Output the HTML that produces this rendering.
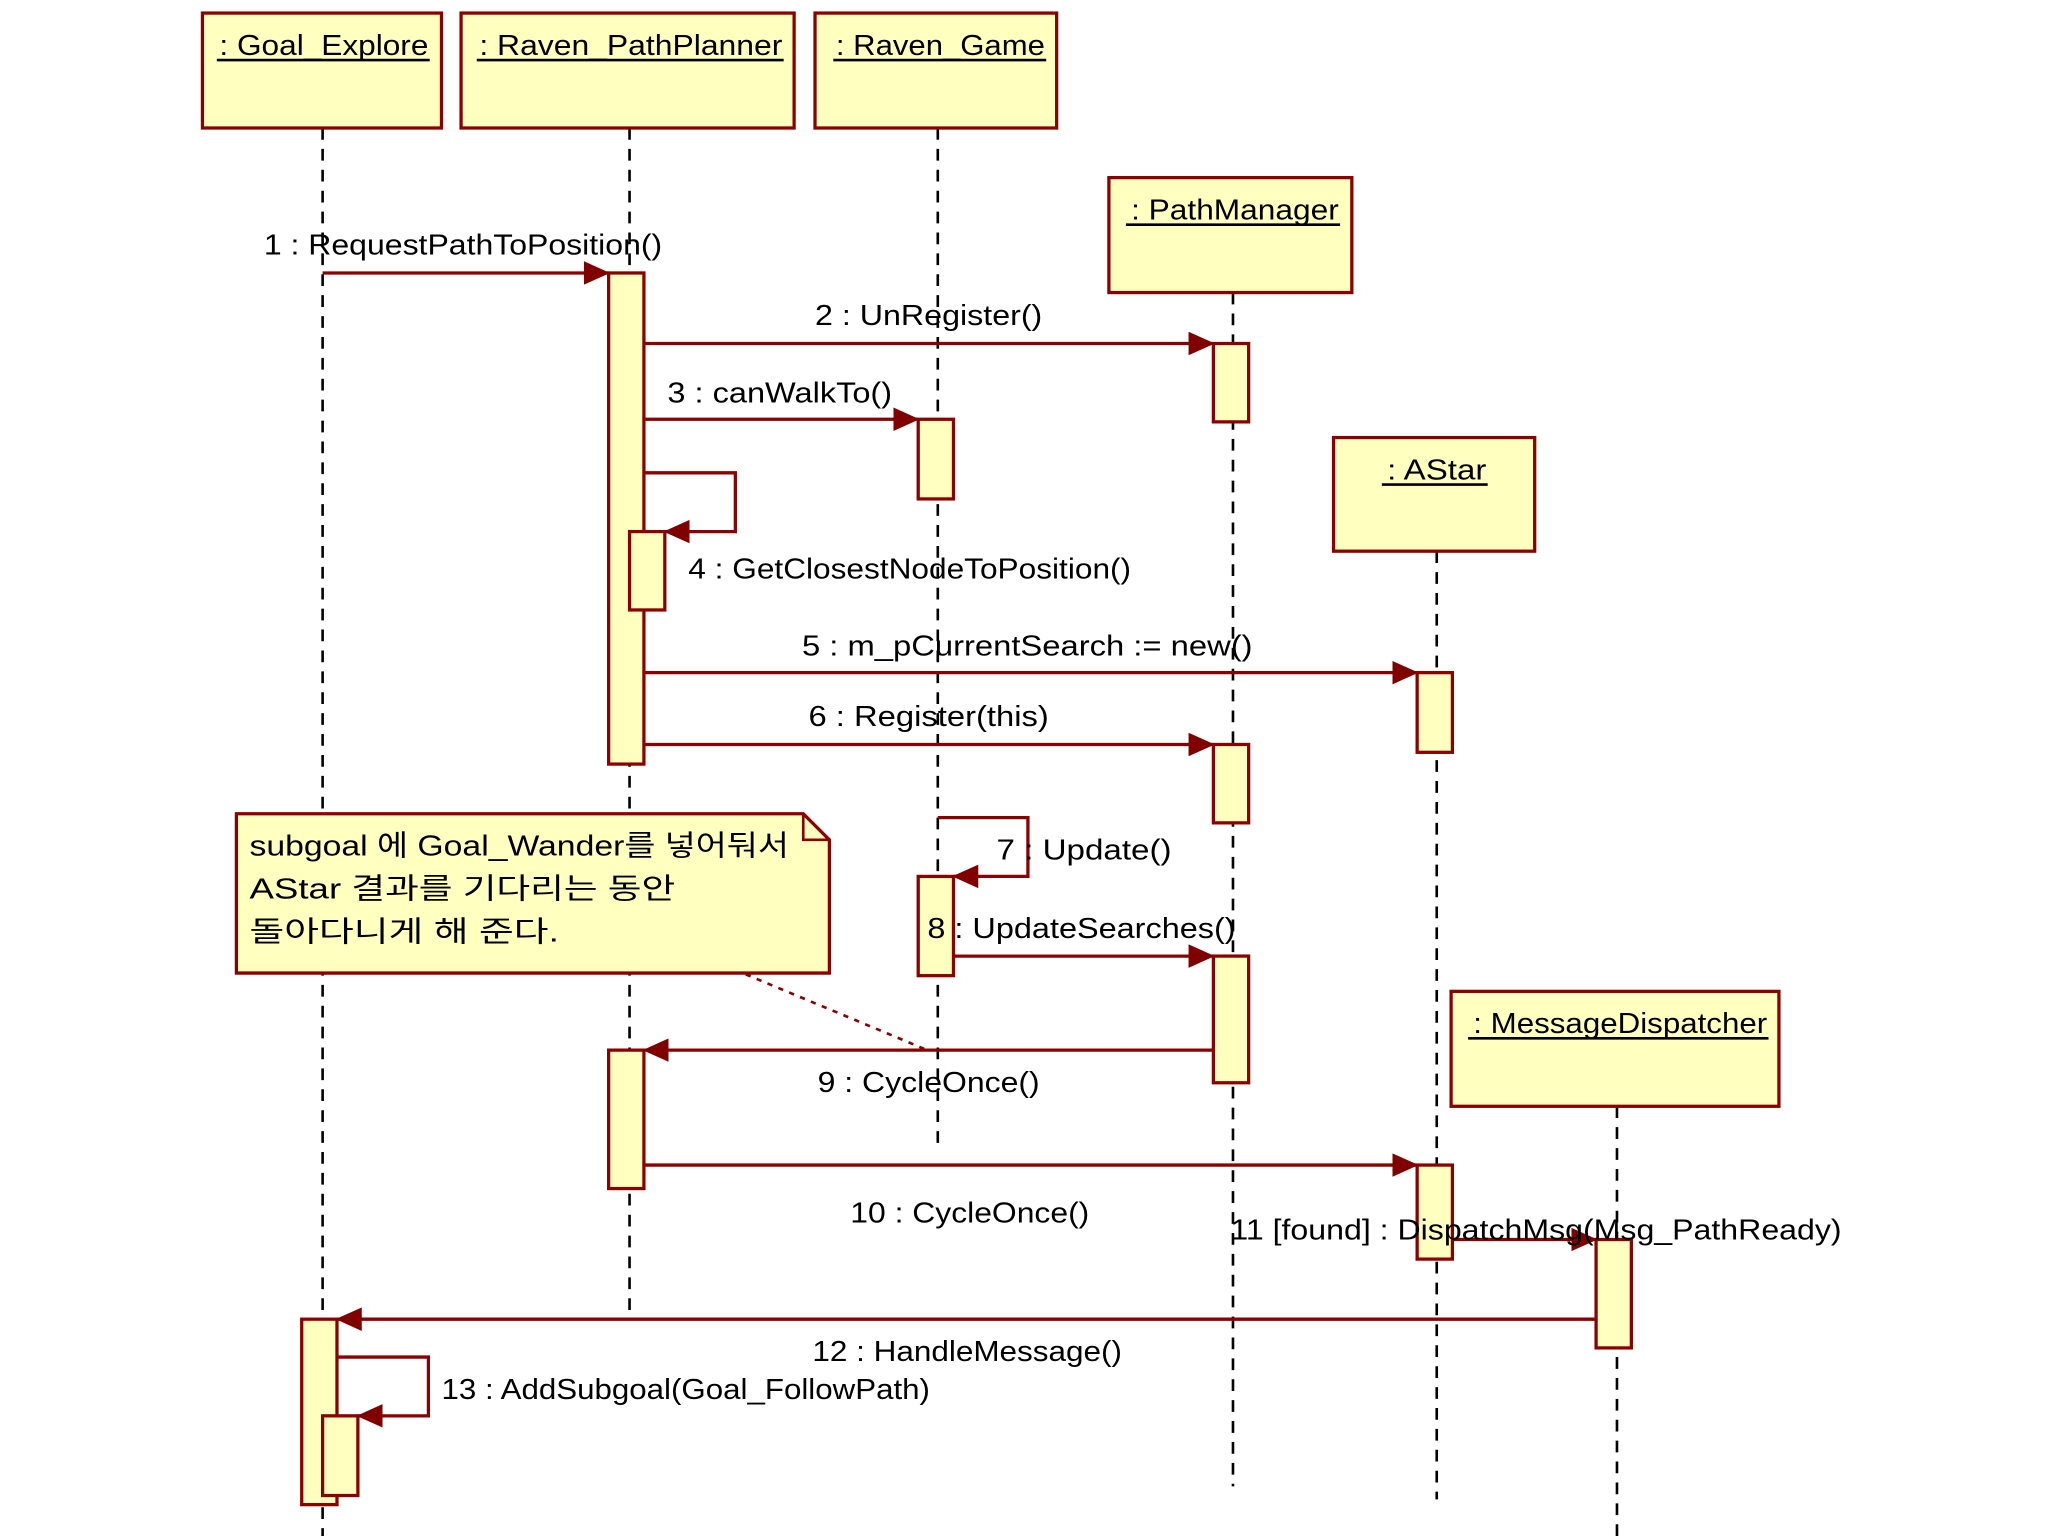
<!DOCTYPE html>
<html><head><meta charset="utf-8"><style>
html,body{margin:0;padding:0;background:#fff}
svg{display:block}
text{font-family:"Liberation Sans","Noto Sans CJK KR",sans-serif;font-size:22px;fill:#000}
</style></head><body>
<svg width="2048" height="1536" viewBox="0 0 1568 1176" xmlns="http://www.w3.org/2000/svg">
<defs>
<marker id="a" markerWidth="20" markerHeight="18" refX="19" refY="9" orient="auto" markerUnits="userSpaceOnUse">
<path d="M0,0 L20,9 L0,18 Z" fill="#800000"/></marker>
</defs>
<g stroke="#000" stroke-width="2" stroke-dasharray="9,7" fill="none">
<line x1="247" y1="98" x2="247" y2="1176"/>
<line x1="482" y1="98" x2="482" y2="1008"/>
<line x1="718" y1="98" x2="718" y2="876"/>
<line x1="944" y1="224" x2="944" y2="1138"/>
<line x1="1100" y1="422" x2="1100" y2="1148"/>
<line x1="1238" y1="847" x2="1238" y2="1176"/>
</g>
<g fill="#ffffc0" stroke="#8b0000" stroke-width="2.5">
<rect x="155" y="10" width="183" height="88"/>
<rect x="353" y="10" width="255" height="88"/>
<rect x="624" y="10" width="185" height="88"/>
<rect x="849" y="136" width="186" height="88"/>
<rect x="1021" y="335" width="154" height="87"/>
<rect x="1111" y="759" width="251" height="88"/>
</g>
<text x="168" y="42" textLength="160" lengthAdjust="spacingAndGlyphs">: Goal_Explore</text>
<text x="367" y="42" textLength="232" lengthAdjust="spacingAndGlyphs">: Raven_PathPlanner</text>
<text x="640" y="42" textLength="160" lengthAdjust="spacingAndGlyphs">: Raven_Game</text>
<text x="866" y="168" textLength="159" lengthAdjust="spacingAndGlyphs">: PathManager</text>
<text x="1062" y="367" textLength="76" lengthAdjust="spacingAndGlyphs">: AStar</text>
<text x="1128" y="791" textLength="225" lengthAdjust="spacingAndGlyphs">: MessageDispatcher</text>
<g stroke="#000" stroke-width="2">
<line x1="166" y1="46" x2="329" y2="46"/>
<line x1="365" y1="46" x2="600" y2="46"/>
<line x1="638" y1="46" x2="801" y2="46"/>
<line x1="862" y1="172" x2="1026" y2="172"/>
<line x1="1058" y1="371" x2="1139" y2="371"/>
<line x1="1124" y1="795" x2="1354" y2="795"/>
</g>
<!-- note -->
<path d="M181,623 L615,623 L635,643 L635,745 L181,745 Z" fill="#ffffc0" stroke="#8b0000" stroke-width="2.5"/>
<path d="M615,623 L615,643 L635,643" fill="none" stroke="#8b0000" stroke-width="2"/>
<line x1="571" y1="746" x2="710" y2="804" stroke="#8b0000" stroke-width="2" stroke-dasharray="4,5"/>
<text x="191" y="655" textLength="413" lengthAdjust="spacingAndGlyphs">subgoal 에 Goal_Wander를 넣어둬서</text>
<text x="191" y="688" textLength="326" lengthAdjust="spacingAndGlyphs">AStar 결과를 기다리는 동안</text>
<text x="191" y="721" textLength="237" lengthAdjust="spacingAndGlyphs">돌아다니게 해 준다.</text>
<!-- activations -->
<g fill="#ffffc0" stroke="#8b0000" stroke-width="2.5">
<rect x="466" y="209" width="27" height="376"/>
<rect x="482" y="407" width="27" height="60"/>
<rect x="929" y="263" width="27" height="60"/>
<rect x="703" y="321" width="27" height="61"/>
<rect x="1085" y="515" width="27" height="61"/>
<rect x="929" y="570" width="27" height="60"/>
<rect x="703" y="671" width="27" height="76"/>
<rect x="929" y="732" width="27" height="97"/>
<rect x="466" y="804" width="27" height="106"/>
<rect x="1085" y="892" width="27" height="72"/>
<rect x="1222" y="949" width="27" height="83"/>
<rect x="231" y="1010" width="27" height="142"/>
<rect x="247" y="1084" width="27" height="61"/>
</g>
<!-- messages -->
<g stroke="#8b0000" stroke-width="2.5" fill="none" marker-end="url(#a)">
<line x1="247" y1="209" x2="466" y2="209"/>
<line x1="493" y1="263" x2="929" y2="263"/>
<line x1="493" y1="321" x2="703" y2="321"/>
<polyline points="493,362 563,362 563,407 509,407"/>
<line x1="493" y1="515" x2="1085" y2="515"/>
<line x1="493" y1="570" x2="929" y2="570"/>
<polyline points="718,626 787,626 787,671 730,671"/>
<line x1="730" y1="732" x2="929" y2="732"/>
<line x1="929" y1="804" x2="493" y2="804"/>
<line x1="493" y1="892" x2="1085" y2="892"/>
<line x1="1112" y1="949" x2="1222" y2="949"/>
<line x1="1222" y1="1010" x2="258" y2="1010"/>
<polyline points="258,1039 328,1039 328,1084 274,1084"/>
</g>
<text x="202" y="195" textLength="305" lengthAdjust="spacingAndGlyphs">1 : RequestPathToPosition()</text>
<text x="624" y="249" textLength="174" lengthAdjust="spacingAndGlyphs">2 : UnRegister()</text>
<text x="511" y="308" textLength="172" lengthAdjust="spacingAndGlyphs">3 : canWalkTo()</text>
<text x="527" y="443" textLength="339" lengthAdjust="spacingAndGlyphs">4 : GetClosestNodeToPosition()</text>
<text x="614" y="502" textLength="345" lengthAdjust="spacingAndGlyphs">5 : m_pCurrentSearch := new()</text>
<text x="619" y="556" textLength="184" lengthAdjust="spacingAndGlyphs">6 : Register(this)</text>
<text x="763" y="658" textLength="134" lengthAdjust="spacingAndGlyphs">7 : Update()</text>
<text x="710" y="718" textLength="236" lengthAdjust="spacingAndGlyphs">8 : UpdateSearches()</text>
<text x="626" y="836" textLength="170" lengthAdjust="spacingAndGlyphs">9 : CycleOnce()</text>
<text x="651" y="936" textLength="183" lengthAdjust="spacingAndGlyphs">10 : CycleOnce()</text>
<text x="942" y="949" textLength="468" lengthAdjust="spacingAndGlyphs">11 [found] : DispatchMsg(Msg_PathReady)</text>
<text x="622" y="1042" textLength="237" lengthAdjust="spacingAndGlyphs">12 : HandleMessage()</text>
<text x="338" y="1071" textLength="374" lengthAdjust="spacingAndGlyphs">13 : AddSubgoal(Goal_FollowPath)</text>
</svg>
</body></html>
